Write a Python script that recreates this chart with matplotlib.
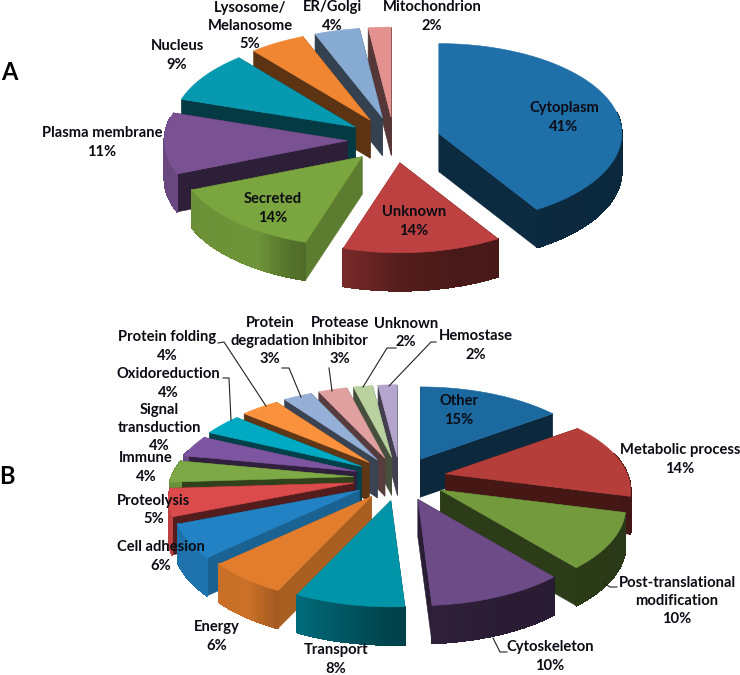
import numpy as np
import matplotlib
matplotlib.use("Agg")
import matplotlib.pyplot as plt
from matplotlib.collections import PolyCollection
from matplotlib.colors import to_rgb

# ---- data ----
cat_a = ["Cytoplasm", "Unknown", "Secreted", "Plasma membrane", "Nucleus",
         "Lysosome/\nMelanosome", "ER/Golgi", "Mitochondrion"]
val_a = [41, 14, 14, 11, 9, 5, 4, 2]
cat_b = ["Other", "Metabolic process", "Post-translational\nmodification", "Cytoskeleton",
         "Transport", "Energy", "Cell adhesion", "Proteolysis", "Immune",
         "Signal\ntransduction", "Oxidoreduction", "Protein folding",
         "Protein\ndegradation", "Protease\nInhibitor", "Unknown", "Hemostase"]
val_b = [15, 14, 10, 10, 8, 6, 6, 5, 4, 4, 4, 4, 3, 3, 2, 2]

# ---- styles / layout ----
col_a = ["#1F6FA8", "#BC4140", "#7BA53F", "#7A5294", "#0799B0", "#F18632", "#87AAD2", "#E39290"]
col_b = ["#1C69A0", "#B63E3A", "#739B3E", "#6C4B87", "#0094A8", "#E17D2D", "#2382C3", "#DC4B4B",
         "#7DAA46", "#7D55A0", "#00AAC3", "#FA913C", "#96AFD7", "#E1A0A0", "#B9D2A0", "#B4A5CD"]
pos_a = [(564, 117.5), (414, 221.5), (273, 208.5), (102, 142.5), (177, 55.5),
         (250, 26), (332, 16.5), (432, 16.5)]
pos_b = [(459, 410.5), (680, 459.5), (677, 601), (550, 656.5), (336, 659.5), (217, 636.5),
         (161, 556.5), (154, 510), (146, 467.5), (159, 428), (168, 383.5), (167, 346.5),
         (270, 341), (340, 341), (406, 333), (476, 345.5)]
leaders = [
    [(218, 343), (224, 342), (266, 406)],
    [(223, 378), (229, 378), (231, 420)],
    [(282, 368), (289, 368), (301, 397)],
    [(329, 368), (332, 391)],
    [(396, 348), (387, 348), (363, 387)],
    [(436, 342), (431, 342), (389, 386)],
    [(604, 583), (610, 587), (617, 587)],
    [(493, 638), (500, 652), (507, 652)],
]
FS = 10.6


def project(X, Y, rx, ry, k):
    s = 1.0 / (1.0 + k * Y)
    return rx * X * s, -ry * Y * s


def wall_factor(t):
    t = t % 360
    return float(np.interp(t, [0, 180, 190, 235, 245, 360], [.38, .38, .75, .75, .38, .38]))


def rim_factor(t):
    return np.interp(t, [90, 160, 180, 205, 215, 270], [.36, .38, .45, .72, .9, .85])


def shade(c, f):
    return tuple(np.array(to_rgb(c)) * f)


def draw_pie(ax, values, colors, cx, cy, rx, ry, k, depth, explode):
    vals = np.asarray(values, float)
    edges = np.concatenate([[0], np.cumsum(vals)]) / vals.sum() * 360
    mids = (edges[:-1] + edges[1:]) / 2
    order = np.argsort(-np.cos(np.radians(mids)))
    for z, i in enumerate(order):
        t = np.radians(np.linspace(edges[i], edges[i + 1], 80))
        m = np.radians(mids[i])
        ax_, ay_ = project(explode * np.sin(m), explode * np.cos(m), rx, ry, k)
        ax0, ay0 = cx + ax_, cy + ay_
        px, py = project(np.sin(t), np.cos(t), rx, ry, k)
        px, py = ax0 + px, ay0 + py
        zb = 2 + z * 0.01
        c = colors[i]
        # radial walls, back one first
        walls = [(px[0], py[0], edges[i]), (px[-1], py[-1], edges[i + 1])]
        walls.sort(key=lambda w: w[1])
        for wx, wy, ang in walls:
            ax.fill([ax0, wx, wx, ax0], [ay0, wy, wy + depth, ay0 + depth],
                    color=shade(c, wall_factor(ang)), lw=0.4, zorder=zb)
        # outer rim, gradient strip
        quads, cols = [], []
        for j in range(len(t) - 1):
            if np.cos(t[j]) < 0.25:
                quads.append([(px[j], py[j]), (px[j + 1], py[j + 1]),
                              (px[j + 1], py[j + 1] + depth), (px[j], py[j] + depth)])
                cols.append(shade(c, rim_factor(np.degrees(t[j]) % 360)))
        if quads:
            ax.add_collection(PolyCollection(quads, facecolors=cols, edgecolors=cols,
                                             linewidths=0.6, antialiaseds=False,
                                             zorder=zb + 0.001))
        # top face
        ax.fill(np.r_[ax0, px], np.r_[ay0, py], color=c, lw=0.4, zorder=zb + 0.002)


plt.rcParams["font.family"] = ["Lato", "DejaVu Sans"]
fig = plt.figure(figsize=(7.4, 6.75), dpi=100)
ax = fig.add_axes([0, 0, 1, 1])
ax.set_xlim(0, 740)
ax.set_ylim(675, 0)
ax.axis("off")

draw_pie(ax, val_a, col_a, 394, 140, 183, 90, 0.0, 38, 0.255)
draw_pie(ax, val_b, col_b, 400, 478, 182, 86, 0.19, 38, 0.256)

for path in leaders:
    xs, ys = zip(*path)
    ax.plot(xs, ys, color="#222222", lw=0.8, zorder=5)

for cats, vals, poss in ((cat_a, val_a, pos_a), (cat_b, val_b, pos_b)):
    for name, v, (x, y) in zip(cats, vals, poss):
        ax.text(x, y, f"{name}\n{v}%", ha="center", va="center", ma="center",
                fontsize=FS, fontweight="bold", color="#0b0b14",
                linespacing=1.4, zorder=6)

ax.text(9, 72, "A", ha="center", va="center", fontsize=17, fontweight="bold", color="black")
ax.text(7, 476, "B", ha="center", va="center", fontsize=17, fontweight="bold", color="black")

fig.savefig("out.png", dpi=100)
